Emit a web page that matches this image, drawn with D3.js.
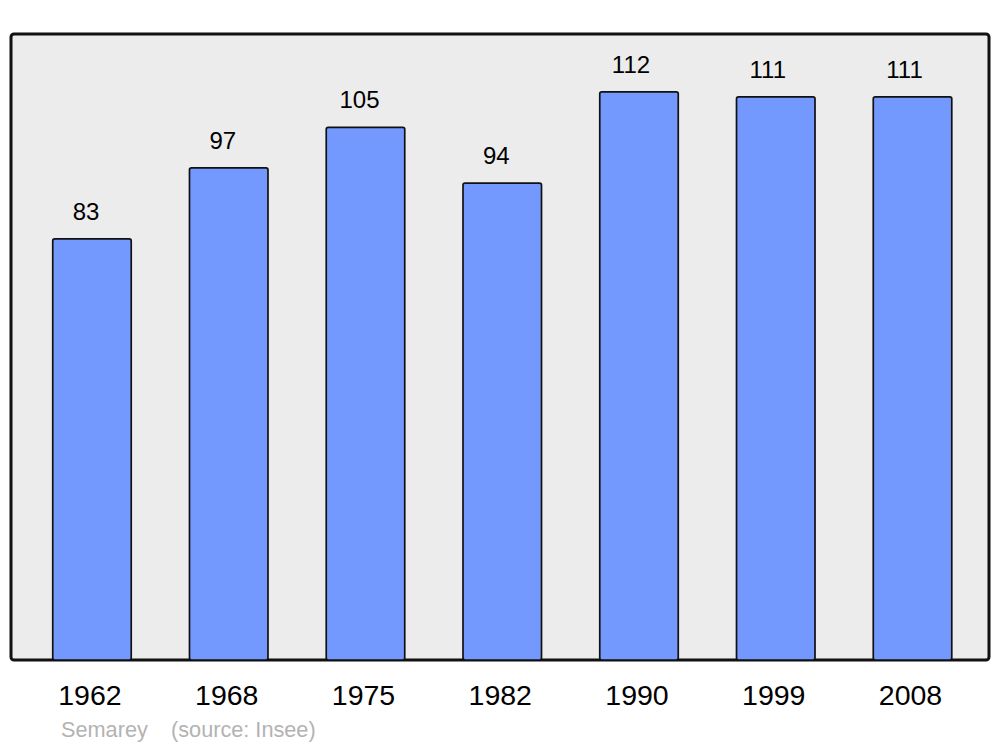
<!DOCTYPE html>
<html lang="en">
<head>
    <meta charset="UTF-8">
    <title>Semarey population</title>
    <script src="https://d3js.org/d3.v7.min.js"></script>
    <style>
        body, html {
            margin: 0;
            background: #ffffff;
            font-family: 'Liberation Sans', Arial, sans-serif;
        }
        svg { display: block; }
        .value { font-size: 24px; fill: #000; }
        .year { font-size: 28.5px; fill: #000; }
        .credit { font-size: 21.7px; fill: #b3b3b3; }
    </style>
</head>
<body>
<script>
    const years = ["1962", "1968", "1975", "1982", "1990", "1999", "2008"];
    const population = [83, 97, 105, 94, 112, 111, 111];

    const width = 1000, height = 747;
    const frame = {left: 11, right: 989, top: 34, bottom: 660};

    const svg = d3.select("body").append("svg")
        .attr("width", width)
        .attr("height", height);

    svg.append("rect")
        .attr("x", frame.left)
        .attr("y", frame.top)
        .attr("width", frame.right - frame.left)
        .attr("height", frame.bottom - frame.top)
        .attr("rx", 3)
        .attr("fill", "#ececec")
        .attr("stroke", "#111")
        .attr("stroke-width", 3);

    const x = d3.scaleBand()
        .domain(years)
        .range([23.6, 980.9])
        .paddingInner(0.426)
        .paddingOuter(0.213);

    const y = d3.scaleLinear()
        .domain([0, 123.4])
        .range([frame.bottom, frame.top]);

    svg.append("g")
        .selectAll("rect")
        .data(population)
        .join("rect")
        .attr("x", (d, i) => x(years[i]))
        .attr("y", d => y(d))
        .attr("width", x.bandwidth())
        .attr("height", d => y(0) - y(d))
        .attr("rx", 2)
        .attr("fill", "#7399ff")
        .attr("stroke", "#111")
        .attr("stroke-width", 1.7);

    svg.append("g")
        .selectAll("text")
        .data(population)
        .join("text")
        .attr("class", "value")
        .attr("text-anchor", "middle")
        .attr("x", (d, i) => x(years[i]) + x.bandwidth() / 2 - (d > 109 ? 8 : 6))
        .attr("y", d => y(d) - 19)
        .text(d => d);

    svg.append("g")
        .selectAll("text")
        .data(years)
        .join("text")
        .attr("class", "year")
        .attr("text-anchor", "middle")
        .attr("x", d => x(d) + x.bandwidth() / 2 - 2)
        .attr("y", 705)
        .text(d => d);

    svg.append("text").attr("class", "credit")
        .attr("x", 61).attr("y", 737).text("Semarey");
    svg.append("text").attr("class", "credit")
        .attr("x", 171).attr("y", 737).text("(source: Insee)");
</script>
</body>
</html>
